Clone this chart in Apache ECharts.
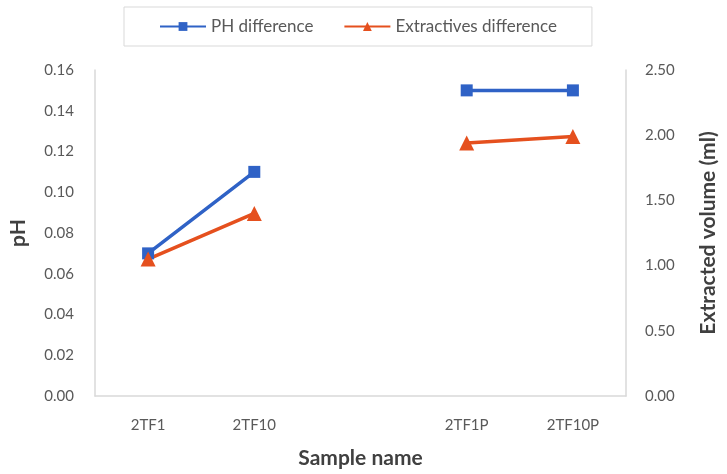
<!DOCTYPE html>
<html>
<head>
<meta charset="utf-8">
<script src="https://cdn.jsdelivr.net/npm/echarts@6/dist/echarts.min.js"></script>
<style>
  html, body { margin: 0; padding: 0; background: #fff; }
  #chart { width: 727px; height: 474px; }
</style>
</head>
<body>
<div id="chart"></div>
<script>
// empty slot between the two groups keeps the gap in the lines
const categories = ['2TF1', '2TF10', '', '2TF1P', '2TF10P']
const phDiff = [0.07, 0.11, null, 0.15, 0.15]
const extractivesDiff = [1.05, 1.40, null, 1.94, 1.99]

const blue = '#2f62c6'
const orange = '#e5501e'
const axisGray = '#d9d9d9'
const labelGray = '#595959'
const titleGray = '#404040'
const font = 'Lato, "Open Sans", sans-serif'

const chart = echarts.init(document.getElementById('chart'))

chart.setOption({
    animation: false,
    textStyle: { fontFamily: font },
    legend: {
        top: 7,
        left: 124,
        padding: [11, 35],
        itemGap: 30,
        itemWidth: 46,
        itemHeight: 11,
        borderColor: axisGray,
        borderWidth: 1,
        textStyle: { fontSize: 17, color: labelGray, fontFamily: font },
        data: ['PH difference', 'Extractives difference']
    },
    grid: { left: 85, right: 96, top: 70, bottom: 71, containLabel: false },
    xAxis: {
        type: 'category',
        data: categories,
        boundaryGap: true,
        name: 'Sample name',
        nameLocation: 'middle',
        nameGap: 52,
        nameTextStyle: { fontSize: 21, fontWeight: 'bold', color: titleGray },
        axisLine: { lineStyle: { color: axisGray, width: 1.5 } },
        axisTick: { show: false },
        axisLabel: { color: labelGray, fontSize: 15, margin: 22 }
    },
    yAxis: [
        {
            type: 'value',
            min: 0,
            max: 0.16,
            interval: 0.02,
            name: 'pH',
            nameLocation: 'middle',
            nameGap: 66,
            nameRotate: 90,
            nameTextStyle: { fontSize: 21, fontWeight: 'bold', color: titleGray },
            axisLine: { show: true, lineStyle: { color: axisGray, width: 1.5 } },
            axisTick: { show: false },
            splitLine: { show: false },
            axisLabel: {
                color: labelGray, fontSize: 15, margin: 21,
                formatter: v => v.toFixed(2)
            }
        },
        {
            type: 'value',
            min: 0,
            max: 2.5,
            interval: 0.5,
            position: 'right',
            name: 'Extracted volume (ml)',
            nameLocation: 'middle',
            nameGap: 72,
            nameRotate: 90,
            nameTextStyle: { fontSize: 21, fontWeight: 'bold', color: titleGray },
            axisLine: { show: true, lineStyle: { color: axisGray, width: 1.5 } },
            axisTick: { show: false },
            splitLine: { show: false },
            axisLabel: {
                color: labelGray, fontSize: 15, margin: 19,
                formatter: v => v.toFixed(2)
            }
        }
    ],
    series: [
        {
            name: 'PH difference',
            type: 'line',
            yAxisIndex: 0,
            data: phDiff,
            connectNulls: false,
            symbol: 'rect',
            symbolSize: 12,
            itemStyle: { color: blue },
            lineStyle: { color: blue, width: 3.5 }
        },
        {
            name: 'Extractives difference',
            type: 'line',
            yAxisIndex: 1,
            data: extractivesDiff,
            connectNulls: false,
            symbol: 'triangle',
            symbolSize: 15,
            itemStyle: { color: orange },
            lineStyle: { color: orange, width: 3.5 }
        }
    ]
})
</script>
</body>
</html>
